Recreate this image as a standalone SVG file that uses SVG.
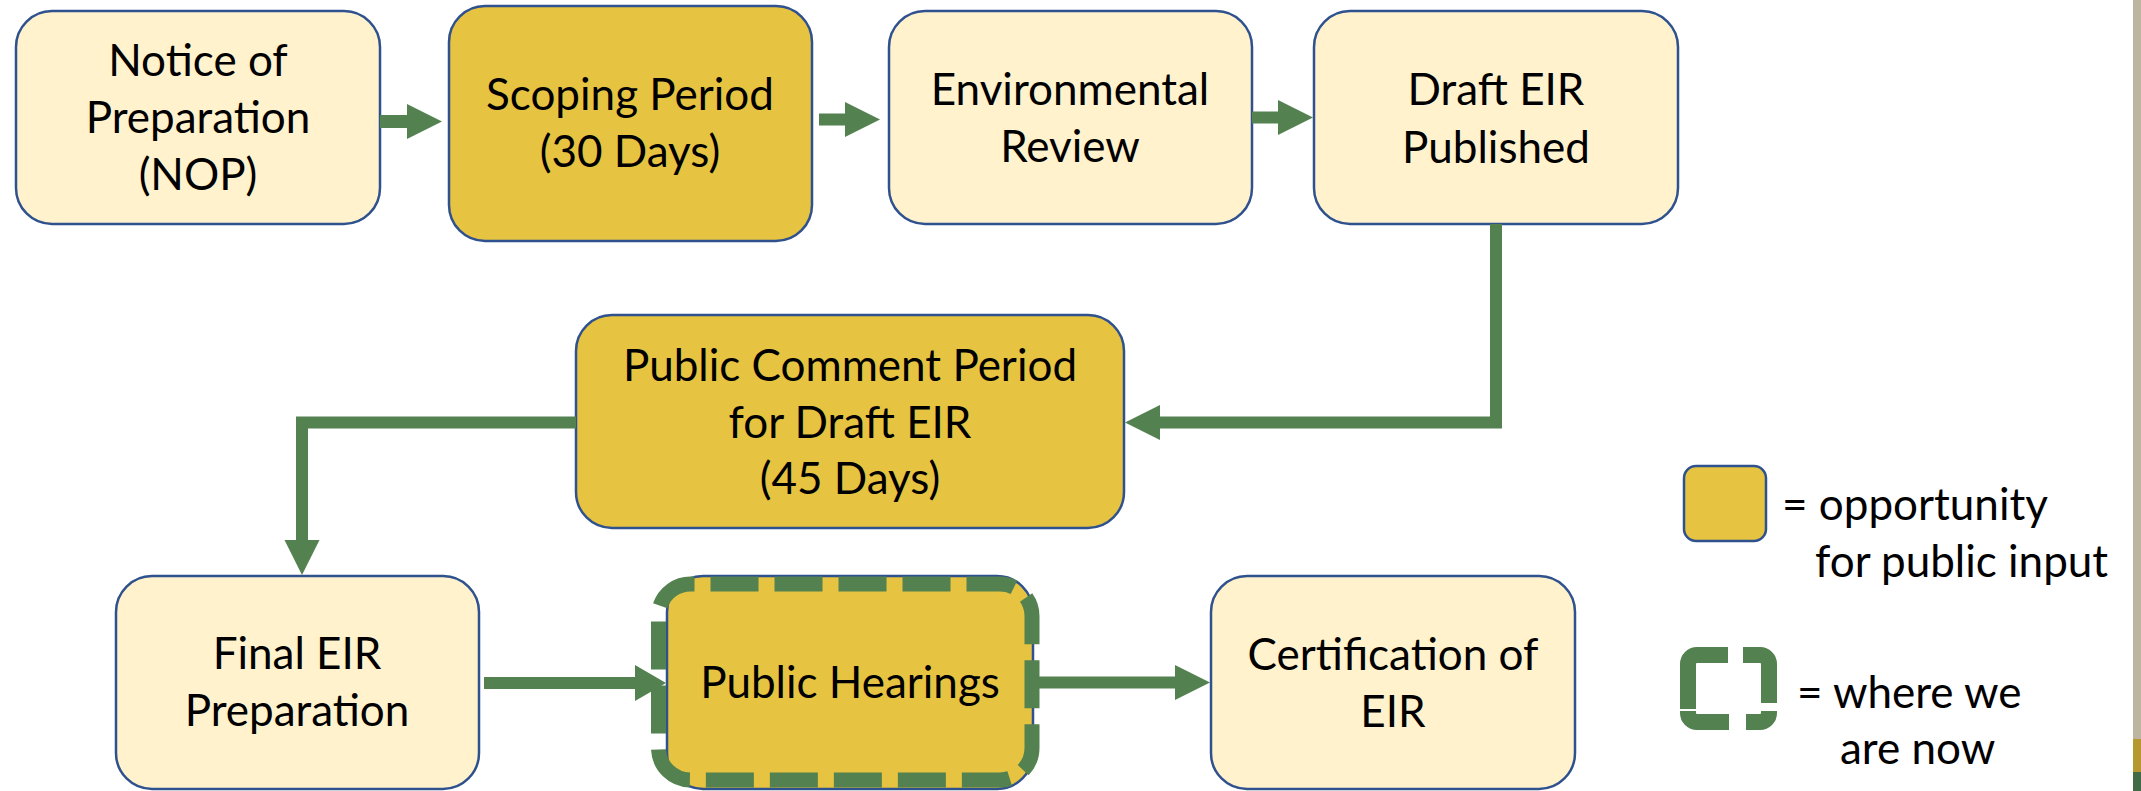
<svg xmlns="http://www.w3.org/2000/svg" width="2141" height="791" viewBox="0 0 2141 791">
<style>
.lt{fill:#FFF2CC;stroke:#2F528F;stroke-width:2.5}
.gd{fill:#E6C340;stroke:#2F528F;stroke-width:2.5}
text{font-family:Lato,"Open Sans","Liberation Sans",sans-serif;font-size:44px;fill:#000;text-anchor:middle}
.lg{text-anchor:start}
.ar{fill:#538150}
.ln{fill:none;stroke:#538150;stroke-width:12;stroke-linejoin:miter}
.dash{fill:none;stroke:#538150;stroke-width:15;stroke-dasharray:48 16}
.ic{fill:none;stroke:#538150;stroke-width:16}
</style>
<rect x="2133" y="0" width="8" height="739" fill="#BCB59F"/>
<rect x="2133" y="739" width="8" height="33" fill="#B5982F"/>
<rect x="2133" y="772" width="8" height="19" fill="#406B46"/>
<g id="n1"><rect class="lt" x="16" y="11" width="364" height="213" rx="36"/><text x="198" y="76">Notice of</text><text x="198" y="133">Preparation</text><text x="198" y="190">(NOP)</text></g>
<g id="n2"><rect class="gd" x="449" y="6" width="363" height="235" rx="36"/><text x="630" y="110">Scoping Period</text><text x="630" y="167">(30 Days)</text></g>
<g id="n3"><rect class="lt" x="889" y="11" width="363" height="213" rx="36"/><text x="1070" y="105">Environmental</text><text x="1070" y="162">Review</text></g>
<g id="n4"><rect class="lt" x="1314" y="11" width="364" height="213" rx="36"/><text x="1496" y="105">Draft EIR</text><text x="1496" y="163">Published</text></g>
<g id="n5"><rect class="gd" x="576" y="315" width="548" height="213" rx="36"/><text x="850" y="381">Public Comment Period</text><text x="850" y="438">for Draft EIR</text><text x="850" y="494">(45 Days)</text></g>
<g id="n6"><rect class="lt" x="116" y="576" width="363" height="213" rx="36"/><text x="297" y="669">Final EIR</text><text x="297" y="726">Preparation</text></g>
<g id="n7"><rect class="gd" x="667" y="576" width="366" height="213" rx="36"/><rect class="dash" x="658.5" y="584" width="373.5" height="196" rx="32" stroke-dashoffset="-20"/><text x="850" y="698">Public Hearings</text></g>
<g id="n8"><rect class="lt" x="1211" y="576" width="364" height="213" rx="36"/><text x="1393" y="670">Certification of</text><text x="1393" y="727">EIR</text></g>
<g id="connectors">
<polygon class="ar" points="380,115 407,115 407,104 442,121.5 407,139 407,128 380,128"/>
<polygon class="ar" points="819,113.5 845,113.5 845,102 880,119.5 845,137 845,125.5 819,125.5"/>
<polygon class="ar" points="1252,111.5 1278,111.5 1278,100 1313,117.5 1278,135 1278,123.5 1252,123.5"/>
<polyline class="ln" points="1496,224 1496,422.5 1158,422.5"/>
<polygon class="ar" points="1160,405 1125,422.5 1160,440"/>
<polyline class="ln" points="576,422.5 302,422.5 302,542"/>
<polygon class="ar" points="284.5,540 319.5,540 302,575"/>
<line class="ln" x1="484" y1="683" x2="637" y2="683" stroke-width="11"/>
<polygon class="ar" points="635,665 666,683 635,701"/>
<line class="ln" x1="1036" y1="682.5" x2="1177" y2="682.5" stroke-width="11"/>
<polygon class="ar" points="1175,665 1210,682.5 1175,700"/>
</g>
<g id="legend">
<rect class="gd" x="1684" y="466" width="82" height="75" rx="12"/>
<text class="lg" x="1782" y="520">= opportunity</text>
<text class="lg" x="1815" y="577">for public input</text>
<path class="ic" d="M1743,655 H1760 A9,9 0 0 1 1769,664 V703"/>
<path class="ic" d="M1769,711 V713 A9,9 0 0 1 1760,722 H1746"/>
<path class="ic" d="M1729,722 H1697 A9,9 0 0 1 1688,713 V711"/>
<path class="ic" d="M1688,709 V664 A9,9 0 0 1 1697,655 H1728"/>
<text class="lg" x="1797" y="708">= where we</text>
<text class="lg" x="1840" y="764">are now</text>
</g>
</svg>
